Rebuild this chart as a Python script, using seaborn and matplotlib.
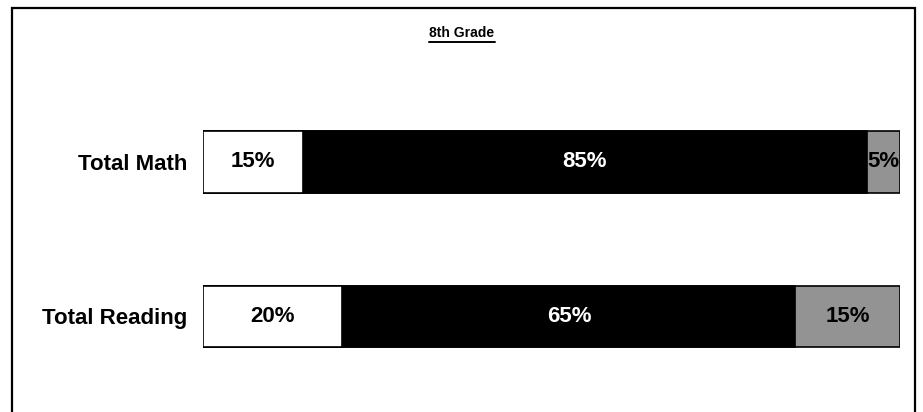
import numpy as np
import pandas as pd
import seaborn as sns
import matplotlib.pyplot as plt
from matplotlib.patches import Rectangle
from matplotlib.lines import Line2D

# --- data ---
subjects = ["Total Math", "Total Reading"]
white_part = [15, 20]
black_part = [85, 65]
gray_part = [5, 15]
title = "8th Grade"

# the bars are normalised to 100% of their own total
df = pd.DataFrame({"subject": subjects, "w": white_part, "b": black_part, "g": gray_part})
tot = df[["w", "b", "g"]].sum(axis=1)
for c in ["w", "b", "g"]:
    df[c + "_pct"] = df[c] / tot * 100
df["cum_w"] = df["w_pct"]
df["cum_b"] = df["w_pct"] + df["b_pct"]
df["cum_g"] = df["cum_b"] + df["g_pct"]

sns.set_theme(style="white")
plt.rcParams["font.family"] = ["Liberation Sans", "DejaVu Sans"]

fig = plt.figure(figsize=(9.23, 4.12), dpi=100)
W, H = 923, 412

# outer frame (runs off the bottom like the reference)
fig.patches.append(Rectangle((12 / W, -0.05), (915 - 12) / W, 1 - 8 / H + 0.05,
                             transform=fig.transFigure, fill=False,
                             edgecolor="black", lw=1.6))

ax = fig.add_axes([203 / W, 0, (900 - 203) / W, (412 - 46) / H])

# stacked trick: draw cumulative totals back to front
layers = [("cum_g", "#939393"), ("cum_b", "black"), ("cum_w", "white")]
for col, colr in layers:
    sns.barplot(data=df, y="subject", x=col, orient="h", color=colr,
                edgecolor="black", linewidth=1.2, width=0.4, ax=ax,
                saturation=1)

ax.set_xlim(0, 100)
ax.set_ylim(1 + (412 - 316.5) / 154.5, -0.75)
for s in ax.spines.values():
    s.set_visible(False)
ax.set_xticks([])
ax.set_xlabel("")
ax.set_ylabel("")
ax.tick_params(axis="y", length=0, pad=11.5)
for lbl in ax.get_yticklabels():
    lbl.set_fontsize(16)
    lbl.set_fontweight("bold")
    lbl.set_color("black")

# value labels centred in each segment
for i, row in df.iterrows():
    starts = [0, row["cum_w"], row["cum_b"]]
    widths = [row["w_pct"], row["b_pct"], row["g_pct"]]
    vals = [row["w"], row["b"], row["g"]]
    tcols = ["black", "white", "black"]
    for s0, wd, v, tc in zip(starts, widths, vals, tcols):
        ax.text(s0 + wd / 2, i, f"{v}%", ha="center", va="center",
                fontsize=16, fontweight="bold", color=tc)

# underlined title
t = fig.text(462 / W, 1 - 33 / H, title, ha="center", va="center",
             fontsize=10, fontweight="bold", color="black")
fig.canvas.draw()
bb = t.get_window_extent().transformed(fig.transFigure.inverted())
fig.add_artist(Line2D([bb.x0, bb.x1], [bb.y0 - 0.004, bb.y0 - 0.004],
                      transform=fig.transFigure, color="black", lw=1.4))

fig.savefig("out.png", dpi=100)
